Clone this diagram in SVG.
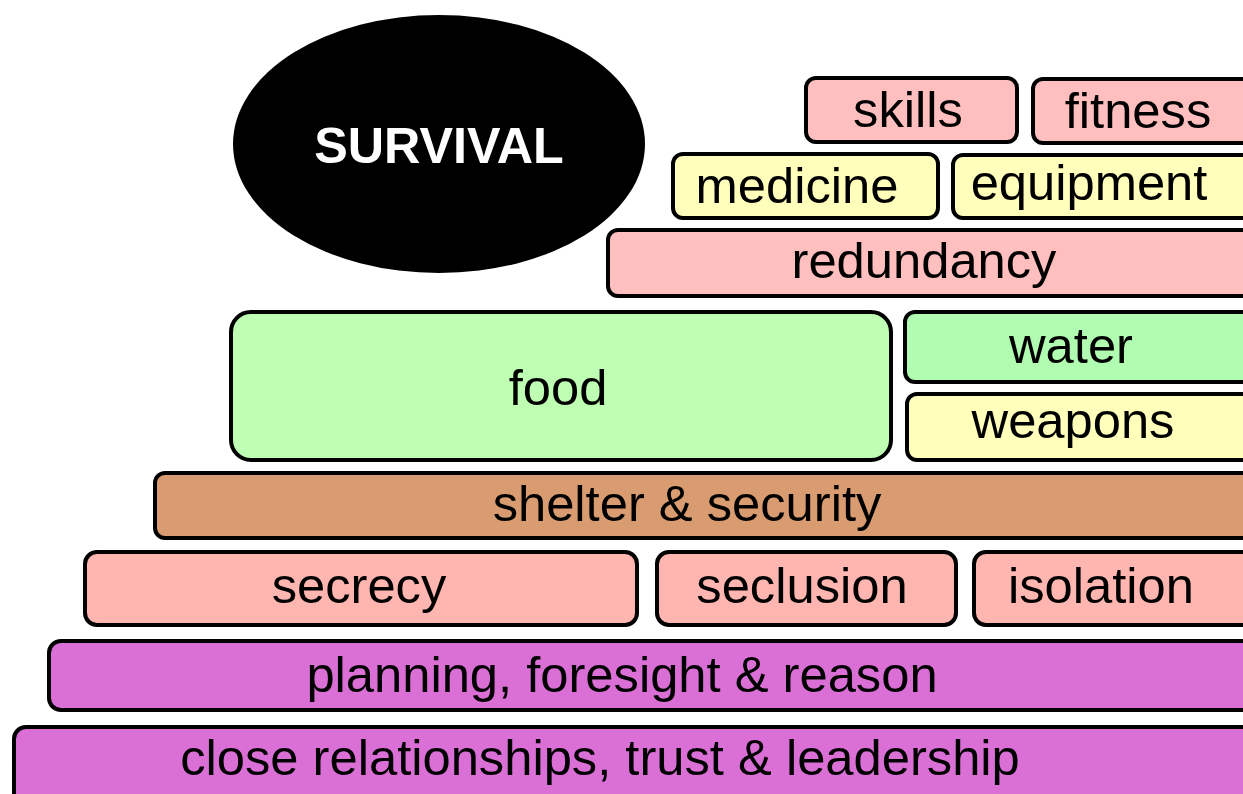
<svg xmlns="http://www.w3.org/2000/svg" width="1243" height="794" viewBox="0 0 1243 794">
<style>
.b{stroke:#000;stroke-width:4}
.t{font-family:"Liberation Sans",Arial,sans-serif;font-size:50.7px;fill:#000;text-anchor:middle}
.pink{fill:#ffbfbf}
.yel{fill:#ffffbb}
.grn{fill:#bfffb3}
.wat{fill:#b0fcb0}
.brn{fill:#d99b70}
.sal{fill:#ffb5b0}
.orc{fill:#da70d6}
</style>
<rect width="1243" height="794" fill="#fff"/>
<g id="survival">
<ellipse cx="439" cy="144" rx="206" ry="129" fill="#000"/>
<text x="439" y="163" style="font-family:'Liberation Sans',Arial,sans-serif;font-size:50.3px;font-weight:bold;fill:#fff;text-anchor:middle">SURVIVAL</text>
</g>
<g id="skills"><rect class="b pink" x="806" y="78" width="211" height="64" rx="10"/><text class="t" x="908" y="127">skills</text></g>
<g id="fitness"><rect class="b pink" x="1033" y="79" width="230" height="64" rx="10"/><text class="t" x="1138" y="128">fitness</text></g>
<g id="medicine"><rect class="b yel" x="673" y="154" width="265" height="64" rx="10"/><text class="t" x="797" y="203">medicine</text></g>
<g id="equipment"><rect class="b yel" x="953" y="155" width="310" height="63" rx="10"/><text class="t" x="1089" y="200">equipment</text></g>
<g id="redundancy"><rect class="b pink" x="608" y="230" width="655" height="66" rx="10"/><text class="t" x="924" y="278">redundancy</text></g>
<g id="food"><rect class="b grn" x="231" y="312" width="660" height="148" rx="20"/><text class="t" x="558" y="405">food</text></g>
<g id="water"><rect class="b wat" x="905" y="312" width="358" height="70" rx="10"/><text class="t" x="1071" y="363">water</text></g>
<g id="weapons"><rect class="b yel" x="907" y="394" width="356" height="66" rx="10"/><text class="t" x="1073" y="438">weapons</text></g>
<g id="shelter"><rect class="b brn" x="155" y="473" width="1108" height="65" rx="10"/><text class="t" x="687" y="521">shelter &amp; security</text></g>
<g id="secrecy"><rect class="b sal" x="85" y="552" width="552" height="73" rx="12"/><text class="t" x="359" y="603">secrecy</text></g>
<g id="seclusion"><rect class="b sal" x="657" y="552" width="299" height="73" rx="12"/><text class="t" x="802" y="603">seclusion</text></g>
<g id="isolation"><rect class="b sal" x="974" y="552" width="289" height="73" rx="12"/><text class="t" x="1101" y="603">isolation</text></g>
<g id="planning"><rect class="b orc" x="49" y="641" width="1214" height="69" rx="12"/><text class="t" x="622" y="692">planning, foresight &amp; reason</text></g>
<g id="close"><rect class="b orc" x="14" y="727" width="1249" height="90" rx="12"/><text class="t" x="600" y="775">close relationships, trust &amp; leadership</text></g>
<g id="connectors"></g>
</svg>
